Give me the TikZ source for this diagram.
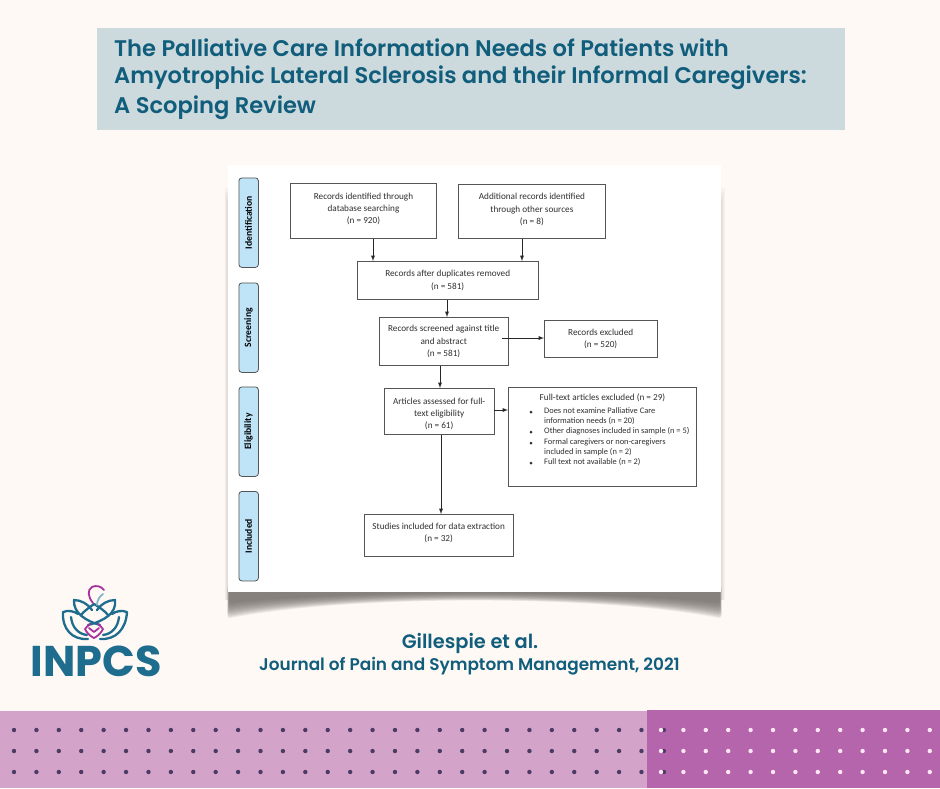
\documentclass[tikz,border=0pt]{standalone}
\usepackage{fontspec}
\setmainfont{Poppins}[BoldFont={Poppins SemiBold}]
\newfontfamily\chartfont{Carlito}
\newfontfamily\logofont{Poppins Bold}
\usetikzlibrary{positioning}
\definecolor{pagebg}{HTML}{FEF9F5}
\definecolor{bannerbg}{HTML}{CDDADD}
\definecolor{inktitle}{HTML}{115D7C}
\definecolor{logoteal}{HTML}{1F6D8E}
\definecolor{logopink}{HTML}{A6329B}
\definecolor{logoleaf}{HTML}{7FB6C4}
\definecolor{stripelight}{HTML}{D4A3CA}
\definecolor{stripedark}{HTML}{B565AB}
\definecolor{dotdark}{HTML}{4B3B63}
\definecolor{dotlight}{HTML}{FBE6F2}
\definecolor{tabblue}{HTML}{BFE3F7}
\definecolor{boxline}{HTML}{555555}
\definecolor{chartink}{HTML}{303030}
\definecolor{shadowgrey}{HTML}{6E6964}
\newcommand{\padbelow}[1]{\rule[-#1]{0pt}{#1}}
\newcommand{\padabove}[1]{\rule{0pt}{#1}}
\begin{document}
\begin{tikzpicture}[x=1pt,y=-1pt,
        >=latex,
        titleline/.style = {anchor=west, inner sep=0pt, text=inktitle, font=\bfseries\fontsize{22.6}{23}\selectfont},
        credit/.style = {anchor=center, inner sep=0pt, text=inktitle, font=\fontsize{16.9}{17}\selectfont\bfseries},
        tab/.style = {draw=boxline, line width=.8pt, rounded corners=3pt, fill=tabblue, minimum width=19.5pt, minimum height=89.5pt, inner sep=0pt, anchor=north west, text=black, font=\chartfont\fontsize{9.6}{10}\selectfont\bfseries},
        box/.style = {draw=boxline, line width=.9pt, anchor=north west, inner sep=0pt, align=center, text=chartink, font=\chartfont\fontsize{9.2}{12.2}\selectfont},
        flow/.style = {->, black!85, line width=.9pt},
        dotsmall/.style = {circle, inner sep=0pt, minimum size=4.4pt}
                        ]
\useasboundingbox (0,0) rectangle (940,788);
\fill[pagebg] (0,0) rectangle (940,788);
% title
\fill[bannerbg] (97,28) rectangle (845,130);
\node (line1) [titleline] at (114,48) {The Palliative Care Information Needs of Patients with};
\node (line2) [titleline] at (114,78) {Amyotrophic Lateral Sclerosis and their Informal Caregivers:};
\node (line3) [titleline] at (114,108) {A Scoping Review};
% shadow under the panel
\foreach \i in {0,...,13}{
  \fill[shadowgrey, opacity=.11, rounded corners=3pt]
    (229-\i*.12,585) -- (720+\i*.12,585) -- (720+\i*.12,603+\i*1.2)
    .. controls (600,590+\i*.35) and (350,590+\i*.35) .. (229-\i*.12,603+\i*1.2) -- cycle;
}
\foreach \i in {0,...,3}{
  \fill[shadowgrey, opacity=.05] (721,188+\i*4) rectangle (724.5-\i*.8,600);
  \fill[shadowgrey, opacity=.05] (228,188+\i*4) rectangle (224.5+\i*.8,600);
}
\fill[white] (228,165) rectangle (721,592);
% phases
\node (ident) [tab] at (238.5,177.5) {\rotatebox{90}{Identification}};
\node (screen) [tab] at (238.5,282.5) {\rotatebox{90}{Screening}};
\node (elig) [tab] at (238.5,386.5) {\rotatebox{90}{Eligibility}};
\node (incl) [tab] at (238.5,491) {\rotatebox{90}{Included}};
% boxes
\node (dbrec) [box, minimum width=145.5pt, minimum height=55pt] at (290.3,183) {Records identified through\\database searching\\(n = 920)\padbelow{5pt}};
\node (otherrec) [box, minimum width=146.5pt, minimum height=54pt] at (458.2,184) {Additional records identified\\through other sources\\(n = 8)\padbelow{5pt}};
\node (dedup) [box, minimum width=180.5pt, minimum height=38pt] at (357,261) {Records after duplicates removed\\(n = 581)\padbelow{1pt}};
\node (screened) [box, minimum width=128.5pt, minimum height=48pt] at (379,317) {Records screened against title\\and abstract\\(n = 581)};
\node (excl) [box, minimum width=112.5pt, minimum height=37pt] at (544,320) {Records excluded\\(n = 520)};
\node (assessed) [box, minimum width=109.5pt, minimum height=46pt] at (384,388) {\padabove{11pt}Articles assessed for full-\\text eligibility\\(n = 61)};
\node (ftexcl) [box, minimum width=187.5pt, minimum height=99pt] at (508,387) {};
\node (fttitle) [anchor=north, inner sep=0pt, text=chartink, font=\chartfont\fontsize{9.2}{12}\selectfont] at (602.5,394) {Full-text articles excluded (n = 29)};
\node (ftlist) [anchor=north west, inner sep=0pt, text=chartink, align=left, font=\chartfont\fontsize{8.4}{10}\selectfont] at (544,407.5) {Does not examine Palliative Care\\[-.2pt]information needs (n = 20)\\[.5pt]Other diagnoses included in sample (n = 5)\\[.5pt]Formal caregivers or non-caregivers\\[-.2pt]included in sample (n = 2)\\[.5pt]Full text not available (n = 2)};
\foreach \yy [count=\k] in {412,432,443,463}{
  \fill[chartink] (531,\yy) circle (1.5pt);
}
\node (studies) [box, minimum width=148.5pt, minimum height=42pt] at (364,514) {Studies included for data extraction\\(n = 32)\padbelow{6pt}};
% arrows
\draw[flow] (dbrec.south -| 373,0) -- (dedup.north -| 373,0);
\draw[flow] (otherrec.south -| 522,0) -- (dedup.north -| 522,0);
\draw[flow] (dedup.south -| 447,0) -- (screened.north -| 447,0);
\draw[flow] (screened.south -| 440,0) -- (assessed.north -| 440,0);
\draw[flow] (502,338) -- (excl.west |- 502,338);
\draw[flow] (assessed.east |- 0,410) -- (ftexcl.west |- 0,410);
\draw[flow] (assessed.south -| 441,0) -- (studies.north -| 441,0);
% citation
\node (author) [credit, font=\fontsize{19.4}{20}\selectfont\bfseries] at (470,643) {Gillespie et al.};
\node (journal) [credit] at (469.5,666) {Journal of Pain and Symptom Management, 2021};
% logo
\node (inpcs) [anchor=center, inner sep=0pt, text=logoteal, font=\logofont\fontsize{43}{44}\selectfont] at (96,661) {INPCS};
\begin{scope}[line width=2.3pt, line join=round, line cap=round]
\draw[logoteal] (88,639) .. controls (72,640) and (62,629) .. (63,612) .. controls (68,610) and (74,611) .. (78,614);
\draw[logoteal] (100,639) .. controls (116,640) and (126,629) .. (127,612) .. controls (122,610) and (116,611) .. (112,614);
\draw[logoteal] (71,617) .. controls (72,627) and (78,634) .. (87,635);
\draw[logoteal] (119,617) .. controls (118,627) and (112,634) .. (103,635);
\draw[logoteal] (100,625) .. controls (86,621) and (73,613) .. (74,600) .. controls (81,600) and (88,604) .. (92,610);
\draw[logoteal] (88,625) .. controls (104,621) and (117,613) .. (115,600) .. controls (108,600) and (101,604) .. (97,610);
\draw[logoteal] (81,615) .. controls (84,611) and (90,607) .. (94,604) .. controls (99,607) and (105,611) .. (108,615);
\end{scope}
\begin{scope}[line width=1.8pt, line join=round, line cap=round]
\draw[logoleaf] (97,605) .. controls (97,600) and (100,596) .. (103,594);
\draw[logopink] (93,603) .. controls (88,597) and (87,590) .. (92,587) .. controls (96,585) and (101,586) .. (104,590);
\draw[logopink] (90,624) .. controls (88,626) and (86,627) .. (85,629) .. controls (87,633) and (90,636) .. (94,638) .. controls (98,636) and (101,633) .. (103,629) .. controls (102,627) and (100,626) .. (98,624);
\draw[logopink] (89,628) -- (94,632) -- (99,628);
\end{scope}
% bottom stripe
\fill[stripelight] (0,711) rectangle (647,788);
\fill[stripedark] (647,710) rectangle (940,788);
\foreach \yy in {730,751,772}{
  \foreach \k in {0,...,29}{
    \node (dk\k-\yy) [dotsmall, fill=dotdark] at (14+\k*22.41,\yy) {};
  }
  \foreach \k in {0,...,12}{
    \node (lt\k-\yy) [dotsmall, fill=dotlight] at (661+\k*22.4,\yy) {};
  }
}
\end{tikzpicture}
\end{document}
